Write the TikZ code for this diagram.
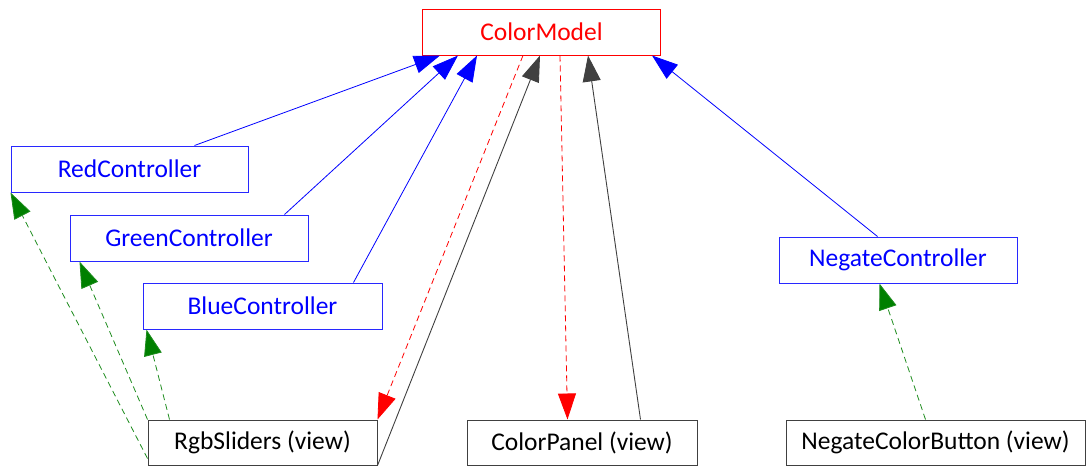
\documentclass[tikz,border=0pt]{standalone}
\usepackage{fontspec}
\setmainfont{Carlito}
\usetikzlibrary{arrows.meta,calc}
\definecolor{mred}{RGB}{255,0,0}
\definecolor{cblue}{RGB}{0,0,255}
\definecolor{cborder}{RGB}{40,40,255}
\definecolor{vgray}{RGB}{64,64,64}
\definecolor{dgreen}{RGB}{0,128,0}
\definecolor{lgreen}{RGB}{30,140,30}
\tikzset{
  box/.style={draw, line width=1pt, inner sep=0pt, minimum height=46pt,
    font=\fontsize{25.5}{30}\selectfont},
  modelbox/.style={box, draw=mred, text=mred},
  ctrlbox/.style={box, draw=cborder, text=cblue},
  viewbox/.style={box, draw=vgray, text=black, minimum height=45pt},
  tip/.style={-{Triangle[length=26pt,width=18pt]}},
  observes/.style={tip, cblue, line width=0.8pt},
  uses/.style={tip, vgray, line width=0.9pt},
  notifies/.style={tip, mred, line width=0.8pt, dash pattern=on 6pt off 4pt},
  listens/.style={-{Triangle[length=26pt,width=18pt,fill=dgreen]}, draw=lgreen, line width=0.8pt, dash pattern=on 6pt off 4pt}
}
\begin{document}
\begin{tikzpicture}[x=1pt,y=-1pt]
\useasboundingbox (0,0) rectangle (1092,466);

% model
\node[modelbox, minimum width=238pt] (cm) at (541.5,32) {ColorModel};

% controllers
\node[ctrlbox, minimum width=237pt] (rc) at (129.5,169) {RedController};
\node[ctrlbox, minimum width=238pt] (gc) at (189,238) {GreenController};
\node[ctrlbox, minimum width=239pt] (bc) at (262.5,306) {BlueController};
\node[ctrlbox, minimum width=238pt] (nc) at (898,260) {NegateController};

% views
\node[viewbox, minimum width=229pt] (rs) at (262.5,442.5) {RgbSliders (view)};
\node[viewbox, minimum width=230pt] (cp) at (582,442.5) {ColorPanel (view)};
\node[viewbox, minimum width=299pt] (nb) at (935.5,442.5) {NegateColorButton (view)};

% controllers -> model
\draw[observes] ($(rc.north west)+(184,0)$) -- ($(cm.south west)+(18,0)$);
\draw[observes] ($(gc.north west)+(215,0)$) -- ($(cm.south west)+(36,0)$);
\draw[observes] ($(bc.north west)+(211,0)$) -- ($(cm.south west)+(55,0)$);
\draw[observes] ($(nc.north west)+(99,0)$) -- ($(cm.south west)+(230,0)$);

% model -> views (notifications)
\draw[notifies] ($(cm.south west)+(101,0)$) -- (rs.north east);
\draw[notifies] ($(cm.south west)+(138,0)$) -- ($(cp.north west)+(101,0)$);

% views -> model
\draw[uses] (rs.south east) -- ($(cm.south west)+(118,0)$);
\draw[uses] ($(cp.north west)+(174,0)$) -- ($(cm.south west)+(166,0)$);

% views -> controllers
\draw[listens] ($(rs.south west)+(0,-7)$) -- (rc.south west);
\draw[listens] (rs.north west) -- ($(gc.south west)+(10,0)$);
\draw[listens] ($(rs.north west)+(22,0)$) -- ($(bc.south west)+(4,0)$);
\draw[listens] ($(nb.north west)+(140,0)$) -- ($(nc.south west)+(101,0)$);
\end{tikzpicture}
\end{document}
